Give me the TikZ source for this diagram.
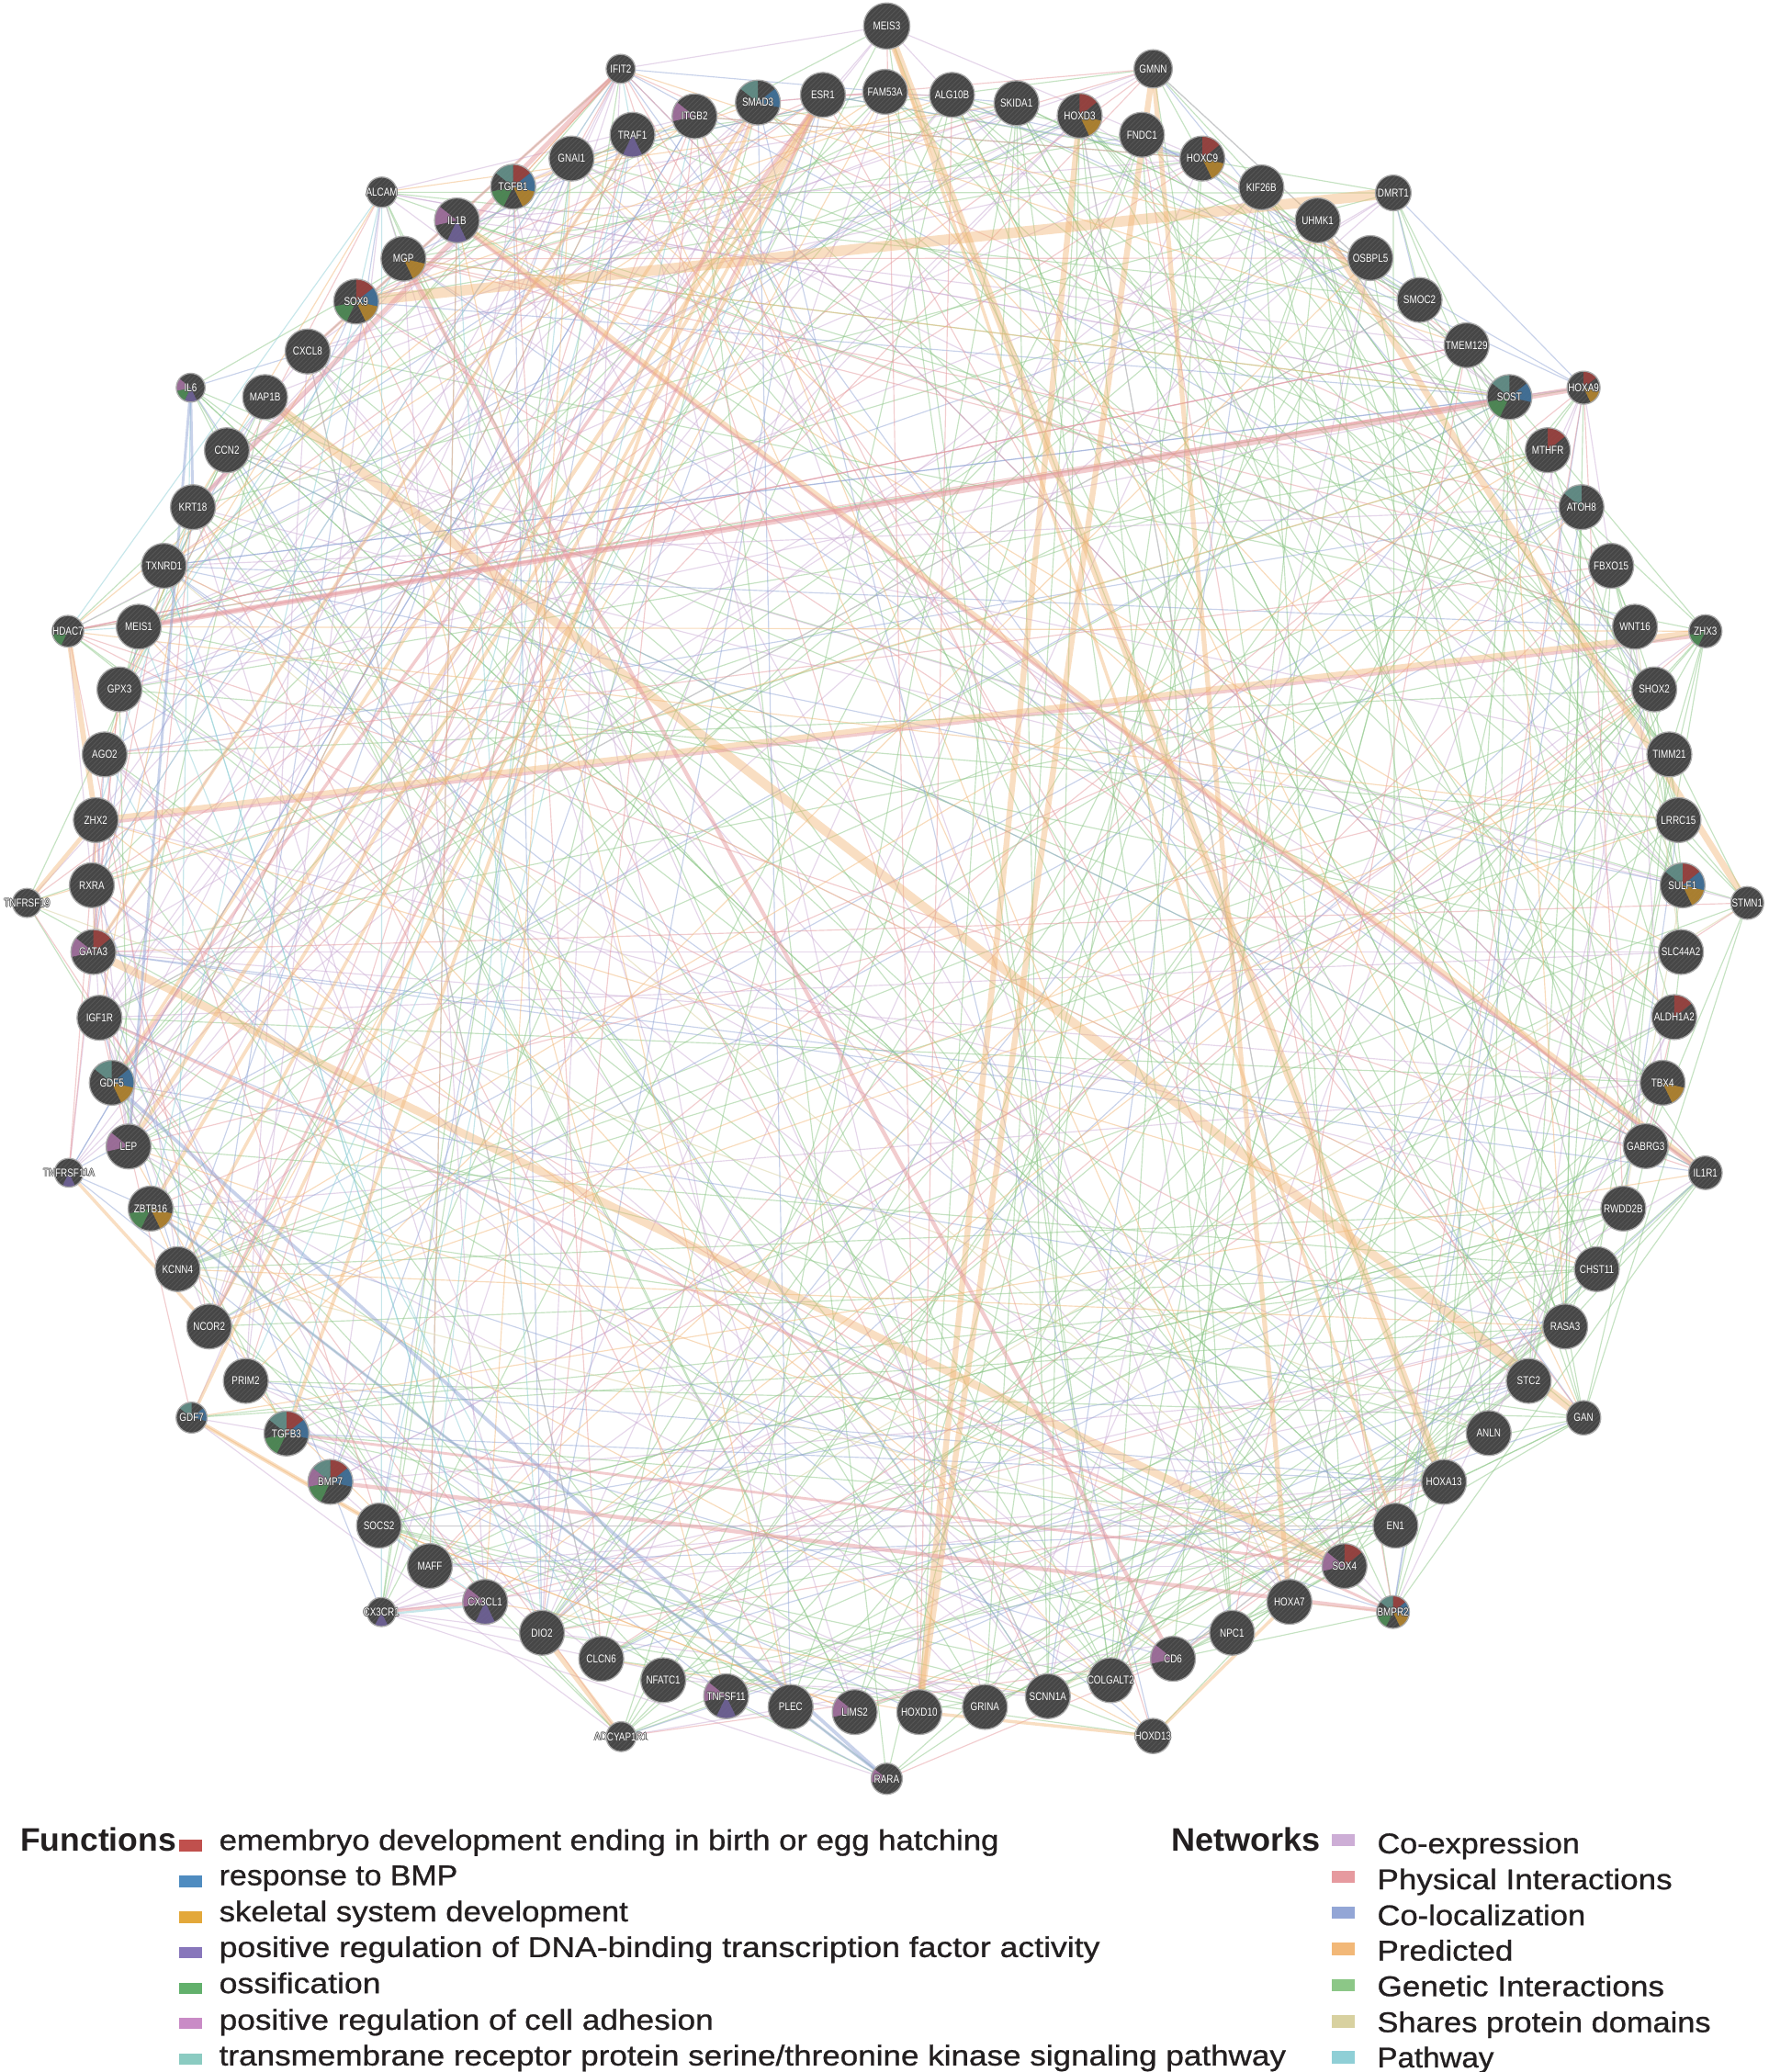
\documentclass[tikz,border=0pt]{standalone}
\usepackage{fontspec}
\usepackage{graphicx}
\usetikzlibrary{patterns.meta}
\setmainfont{Liberation Sans}
\newfontfamily\lblfont[FakeStretch=0.8]{Liberation Sans}
\newfontfamily\itemfont[FakeBold=0.8]{Liberation Sans}
\definecolor{coexp}{HTML}{CDAED6}
\definecolor{phys}{HTML}{E69A9F}
\definecolor{coloc}{HTML}{93A6D6}
\definecolor{pred}{HTML}{F2B878}
\definecolor{genet}{HTML}{8CC787}
\definecolor{shares}{HTML}{D8D1A0}
\definecolor{pathw}{HTML}{8FCFD6}
\definecolor{f1}{HTML}{C0504D}
\definecolor{f2}{HTML}{4F8CC0}
\definecolor{f3}{HTML}{E3A83A}
\definecolor{f4}{HTML}{8877BB}
\definecolor{f5}{HTML}{62B06C}
\definecolor{f6}{HTML}{C98BC6}
\definecolor{f7}{HTML}{8BCBC1}
\colorlet{p1}{f1!82!black}
\colorlet{p2}{f2!82!black}
\colorlet{p3}{f3!80!black}
\colorlet{p4}{f4!82!black}
\colorlet{p5}{f5!80!black}
\colorlet{p6}{f6!82!black}
\colorlet{p7}{f7!72!black}
\definecolor{nodedark}{HTML}{464646}
\definecolor{nodestripe}{HTML}{575757}
\definecolor{nodeedge}{HTML}{A9A9A9}
\definecolor{legtext}{HTML}{231F20}
\tikzset{
  thinedge/.style={line width=0.4pt, opacity=0.5},
  eg/.style={thinedge, draw=genet},
  ep/.style={thinedge, draw=coexp},
  ec/.style={thinedge, draw=coloc},
  eph/.style={thinedge, draw=phys},
  epr/.style={thinedge, draw=pred},
  epw/.style={thinedge, draw=pathw},
  esh/.style={thinedge, draw=shares},
  predband/.style={draw=pred, opacity=0.45, line width=#1},
  physband/.style={draw=phys, opacity=0.5, line width=#1},
  colocband/.style={draw=coloc, opacity=0.5, line width=#1},
  pathband/.style={draw=pathw, opacity=0.5, line width=#1},
  nodeborder/.style={draw=nodeedge, line width=0.45pt},
  lbl/.style={font=\lblfont\fontsize{4.3}{4.3}\selectfont, text=white, inner sep=0pt},
  lblout/.style={font=\lblfont\fontsize{4.3}{4.3}\selectfont, text=nodedark, inner sep=0pt},
  legitem/.style={anchor=base west, inner sep=0pt, text=legtext, font=\itemfont\fontsize{10.8}{13}\selectfont},
  leghead/.style={anchor=base west, inner sep=0pt, text=legtext, font=\bfseries\fontsize{12.3}{14}\selectfont}
}
\def\nodelist{MEIS3/671/19.7/17.5/0, FAM53A/669.8/69.5/17/0, ALG10B/720.4/71.8/17/0, SKIDA1/769.2/78.1/17/0,
HOXD3/817/87.6/17/{1,3}, GMNN/872.6/52.1/14.5/0, FNDC1/864.1/102/17/0, HOXC9/909.8/120/17/{1,3},
KIF26B/954.5/141.8/17/0, DMRT1/1054.3/146/13.5/0, UHMK1/997.1/166.8/17/0, OSBPL5/1037/195.3/17/0,
SMOC2/1074.2/227/17/0, TMEM129/1109.8/261.3/17/0, SOST/1142.2/300.5/17/{2,5,7}, HOXA9/1198.3/293.4/12.5/{1,3},
MTHFR/1171.2/340.7/17/{1}, ATOH8/1196.7/383.8/17/{7}, FBXO15/1219.2/428.2/17/0, WNT16/1237.2/474.3/17/0,
ZHX3/1290.5/477.7/12.5/{5}, SHOX2/1251.8/521.7/17/0, TIMM21/1263.2/570.9/17/0, LRRC15/1270.1/620.6/17/0,
SULF1/1273.2/670/17/{1,2,3,7}, STMN1/1322.2/683.3/12.4/0, SLC44A2/1272/720.4/17/0, ALDH1A2/1266.9/769.7/17/{1},
TBX4/1258.1/819.4/17/{3}, GABRG3/1245.3/867.3/17/0, IL1R1/1290.5/887.5/12.7/0, RWDD2B/1228.4/914.6/17/0,
CHST11/1208.3/960.4/17/0, RASA3/1184.4/1003.8/17/0, STC2/1156.8/1045/17/0, GAN/1198.3/1072.9/13/0,
ANLN/1126.5/1084.5/17/0, HOXA13/1092.7/1121.4/17/0, EN1/1056/1154.5/17/0, SOX4/1017.4/1185.1/17/{1,6},
BMPR2/1054.1/1219.9/12.4/{1,2,3,5,7}, HOXA7/975.7/1212.2/17/0, NPC1/932.3/1235.6/17/0, CD6/887.6/1255.3/17/{6},
COLGALT2/840.5/1271.5/17/0, HOXD13/872.5/1313.7/13.3/0, SCNN1A/792.9/1283.6/17/0, GRINA/745.3/1291.7/17/0,
HOXD10/695.6/1295.6/17/0, RARA/671/1346.1/11.8/{6}, LIMS2/646.8/1295.6/17/{6}, PLEC/598.3/1291.7/17/0,
TNFSF11/549.5/1283.6/17/{4,6}, NFATC1/501.9/1271.5/17/0, ADCYAP1R1/470/1314.2/11.3/0, CLCN6/455/1255.3/17/0,
DIO2/410.1/1235.6/17/0, CX3CL1/367.1/1212.2/17/{4,6}, CX3CR1/288.6/1219.9/11/{4}, MAFF/325.3/1185.1/17/0,
SOCS2/286.8/1154.5/17/0, BMP7/250/1121.4/17/{1,2,5,6,7}, TGFB3/216.8/1084.8/17/{1,2,5,7}, GDF7/145/1072.8/11.7/{2,7},
PRIM2/186/1045/17/0, NCOR2/158.3/1003.8/17/0, KCNN4/134.4/960.4/17/0, ZBTB16/114/914.6/17/{3,5},
TNFRSF11A/52.1/887.5/10.9/{4}, LEP/97.3/867.6/17/{6}, GDF5/84.6/819.4/17/{2,3,7}, IGF1R/75.3/770.2/17/0,
GATA3/70.7/720.4/17/{1,6}, TNFRSF19/20.4/683.3/11/0, RXRA/69.5/669.9/17/0, ZHX2/72.5/620.6/17/0,
AGO2/79.2/570.9/17/0, GPX3/90.4/521.7/17/0, HDAC7/51.4/477.7/12/{5}, MEIS1/105/474.3/17/0,
TXNRD1/124/428.2/17/0, KRT18/146/383.8/17/0, CCN2/171.7/340.7/17/0, MAP1B/200.6/300.5/17/0,
IL6/144.3/293.4/10.9/{4,5,6}, CXCL8/232.8/266/17/0, SOX9/269.5/228.2/17/{1,2,3,5}, MGP/305.3/195.8/17/{3},
ALCAM/288.9/145.5/11.5/0, IL1B/345.8/166.8/17/{4,6}, TGFB1/388.3/141.3/17/{1,2,3,5,7}, GNAI1/432.5/120/17/0,
TRAF1/478.6/102/17/{4}, ITGB2/525.6/88/17/{6}, IFIT2/469.7/52.1/11/0, SMAD3/573.5/77.6/17/{2,7},
ESR1/622.7/71.8/17/0}
\begin{document}
\begin{tikzpicture}[x=0.5pt,y=0.5pt]
\useasboundingbox (0,0) rectangle (1338,-1568);
\fill[white] (0,0) rectangle (1338,-1568);
% coordinates of the genes
\foreach \nm/\x/\y/\rad/\pie [count=\i] in \nodelist {
  \coordinate (\nm) at (\x,-\y);
  \coordinate (c\i) at (\x,-\y);
}
% thin edges
\pgfmathsetseed{2024}
\foreach \e in {1,...,160}{
  \pgfmathrandominteger{\a}{1}{97}\pgfmathrandominteger{\b}{1}{97}
  \draw[eg] (c\a) -- (c\b);}
\foreach \e in {1,...,130}{
  \pgfmathrandominteger{\a}{1}{45}\pgfmathrandominteger{\b}{1}{97}
  \draw[eg] (c\a) -- (c\b);}
\foreach \e in {1,...,70}{
  \pgfmathrandominteger{\a}{1}{97}\pgfmathrandominteger{\b}{1}{97}
  \draw[ep] (c\a) -- (c\b);}
\foreach \e in {1,...,70}{
  \pgfmathrandominteger{\a}{55}{97}\pgfmathrandominteger{\b}{1}{97}
  \draw[ep] (c\a) -- (c\b);}
\foreach \e in {1,...,40}{
  \pgfmathrandominteger{\a}{1}{97}\pgfmathrandominteger{\b}{1}{97}
  \draw[ec] (c\a) -- (c\b);}
\foreach \e in {1,...,40}{
  \pgfmathrandominteger{\a}{55}{97}\pgfmathrandominteger{\b}{1}{97}
  \draw[ec] (c\a) -- (c\b);}
\foreach \e in {1,...,30}{
  \pgfmathrandominteger{\a}{1}{97}\pgfmathrandominteger{\b}{1}{97}
  \draw[eph] (c\a) -- (c\b);}
\foreach \e in {1,...,45}{
  \pgfmathrandominteger{\a}{55}{97}\pgfmathrandominteger{\b}{1}{97}
  \draw[eph] (c\a) -- (c\b);}
\foreach \e in {1,...,20}{
  \pgfmathrandominteger{\a}{1}{97}\pgfmathrandominteger{\b}{1}{97}
  \draw[epr] (c\a) -- (c\b);}
\foreach \e in {1,...,35}{
  \pgfmathrandominteger{\a}{60}{97}\pgfmathrandominteger{\b}{1}{97}
  \draw[epr] (c\a) -- (c\b);}
\foreach \e in {1,...,20}{
  \pgfmathrandominteger{\a}{55}{97}\pgfmathrandominteger{\b}{55}{97}
  \draw[epw] (c\a) -- (c\b);}
\foreach \e in {1,...,8}{
  \pgfmathrandominteger{\a}{1}{97}\pgfmathrandominteger{\b}{1}{97}
  \draw[esh] (c\a) -- (c\b);}
% prominent edges
\draw[predband=4pt] (SOX9) -- (DMRT1);
\draw[predband=3pt] (MEIS3) -- (HOXA13);
\draw[predband=3.5pt] (MAP1B) -- (GAN);
\draw[predband=3pt] (GATA3) -- (SOX4);
\draw[predband=2.5pt] (UHMK1) -- (STMN1);
\draw[predband=2.2pt] (GMNN) -- (HOXD10);
\draw[predband=2.2pt] (HOXD3) -- (HOXD10);
\draw[predband=1.8pt] (GMNN) -- (HOXA7);
\draw[predband=2pt] (ZHX2) -- (ZHX3);
\draw[physband=1.2pt, transform canvas={yshift=-1.5pt}] (ZHX2) -- (ZHX3);
\draw[predband=2pt] (IL1B) -- (IL1R1);
\draw[physband=1.2pt, transform canvas={xshift=-1.5pt}] (IL1B) -- (IL1R1);
\draw[predband=2pt] (HDAC7) -- (ZHX2);
\draw[predband=1.6pt] (TNFRSF19) -- (ZHX2);
\draw[predband=1.6pt] (GDF7) -- (SOCS2);
\draw[predband=2pt] (DIO2) -- (ADCYAP1R1);
\draw[predband=1.5pt] (ESR1) -- (LEP);
\draw[predband=1.3pt] (ESR1) -- (ZBTB16);
\draw[predband=1.3pt] (SMAD3) -- (TGFB3);
\draw[predband=1.2pt] (ESR1) -- (KCNN4);
\draw[predband=1.2pt] (TRAF1) -- (GATA3);
\draw[predband=1.2pt] (HOXD10) -- (HOXD13);
\draw[predband=1.2pt] (TNFRSF11A) -- (NCOR2);
\draw[predband=1.2pt] (MEIS3) -- (EN1);
\draw[predband=1.2pt] (SMAD3) -- (GDF5);
\draw[predband=1.2pt] (ESR1) -- (GDF7);
\draw[predband=1.2pt] (HOXA7) -- (HOXD13);
\draw[physband=2pt] (MEIS1) -- (HOXA9);
\draw[physband=1pt] (MEIS1) -- (SOST);
\draw[physband=1.8pt] (IFIT2) -- (KRT18);
\draw[physband=1pt] (IFIT2) -- (CXCL8);
\draw[physband=1.5pt] (MGP) -- (CD6);
\draw[physband=1.5pt] (BMP7) -- (BMPR2);
\draw[physband=1pt] (IGF1R) -- (BMPR2);
\draw[physband=1pt] (TGFB3) -- (SOX4);
\draw[physband=1.2pt] (ESR1) -- (GDF5);
\draw[physband=1pt] (ESR1) -- (NCOR2);
\draw[physband=1.2pt] (CX3CR1) -- (CX3CL1);
\draw[pathband=0.8pt, transform canvas={yshift=-1pt}] (CX3CR1) -- (CX3CL1);
\draw[colocband=1.3pt] (GDF5) -- (RARA);
\draw[colocband=1pt] (ZBTB16) -- (RARA);
\draw[colocband=1pt] (IL6) -- (LEP);
\draw[colocband=1pt] (IL6) -- (KRT18);
% gene nodes
\foreach \nm/\x/\y/\rad/\pie in \nodelist {
  \fill[nodedark] (\nm) circle[radius=\rad];
  \fill[pattern={Lines[angle=45,distance=1.3pt,line width=0.3pt]}, pattern color=nodestripe] (\nm) circle[radius=\rad];
  \foreach \k in \pie {
    \ifnum\k>0
      \fill[p\k, fill opacity=0.88] (\nm) -- ++({90-(\k-1)*360/7}:\rad) arc[start angle={90-(\k-1)*360/7}, end angle={90-\k*360/7}, radius=\rad] -- cycle;
    \fi
  }
  \draw[nodeborder] (\nm) circle[radius=\rad];
  \foreach \dx/\dy in {0.25/0, -0.25/0, 0/0.25, 0/-0.25}{
    \node[lblout, xshift=\dx pt, yshift=\dy pt] at (\nm) {\nm};
  }
  \node[lbl] (\nm-t) at (\nm) {\nm};
}
% legend: functions
\node[leghead] (fhead) at (15,-1400.7) {\resizebox{59pt}{\height}{Functions}};
\foreach \c/\yc in {f1/1396.6, f2/1423.8, f3/1450.8, f4/1477.6, f5/1504.8, f6/1531.4, f7/1558.1}{
  \fill[\c] (135.3,-\yc+4.25) rectangle (153,-\yc-4.25);
}
\node[legitem] (fi1) at (165.5,-1400) {\resizebox{295pt}{\height}{emembryo development ending in birth or egg hatching}};
\node[legitem] (fi2) at (165.5,-1426.6) {\resizebox{90.2pt}{\height}{response to BMP}};
\node[legitem] (fi3) at (165.5,-1454) {\resizebox{154.7pt}{\height}{skeletal system development}};
\node[legitem] (fi4) at (165.5,-1481) {\resizebox{333.2pt}{\height}{positive regulation of DNA-binding transcription factor activity}};
\node[legitem] (fi5) at (165.5,-1508.3) {\resizebox{61.1pt}{\height}{ossification}};
\node[legitem] (fi6) at (165.5,-1536) {\resizebox{187pt}{\height}{positive regulation of cell adhesion}};
\node[legitem] (fi7) at (165.5,-1563) {\resizebox{403.6pt}{\height}{transmembrane receptor protein serine/threonine kinase signaling pathway}};
% legend: networks
\node[leghead] (nhead) at (886,-1400.7) {\resizebox{56.5pt}{\height}{Networks}};
\foreach \c/\yc in {coexp/1392.6, phys/1420.2, coloc/1447.4, pred/1474.7, genet/1502.3, shares/1529.7, pathw/1557}{
  \fill[\c] (1007.5,-\yc+4.75) rectangle (1025,-\yc-4.75);
}
\node[legitem] (ni1) at (1041.8,-1402.5) {\resizebox{76.6pt}{\height}{Co-expression}};
\node[legitem] (ni2) at (1041.8,-1429.7) {\resizebox{111.6pt}{\height}{Physical Interactions}};
\node[legitem] (ni3) at (1041.8,-1456.9) {\resizebox{78.8pt}{\height}{Co-localization}};
\node[legitem] (ni4) at (1041.8,-1483.6) {\resizebox{51.4pt}{\height}{Predicted}};
\node[legitem] (ni5) at (1041.8,-1510.6) {\resizebox{108.6pt}{\height}{Genetic Interactions}};
\node[legitem] (ni6) at (1041.8,-1537.8) {\resizebox{126.2pt}{\height}{Shares protein domains}};
\node[legitem] (ni7) at (1041.8,-1564.5) {\resizebox{44.1pt}{\height}{Pathway}};
\end{tikzpicture}
\end{document}
